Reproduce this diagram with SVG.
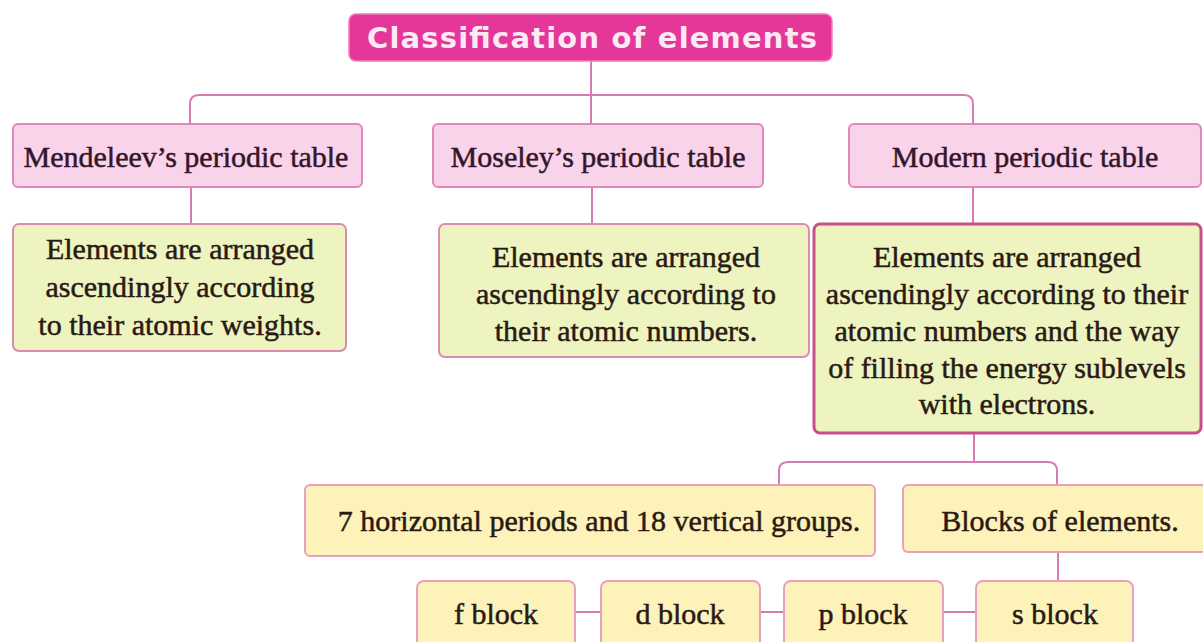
<svg xmlns="http://www.w3.org/2000/svg" width="1203" height="642" viewBox="0 0 1203 642">
<style>
.bg{fill:#ffffff}
.con{fill:none;stroke:#d87bb0;stroke-width:2}
.title{fill:#e5369a;stroke:#f07cc0;stroke-width:1.5}
.ttext{font-family:"DejaVu Sans",sans-serif;font-weight:bold;font-size:29px;fill:#fbe9f3;text-anchor:middle}
.pink{fill:#f9d3e9;stroke:#e087bb;stroke-width:2}
.green{fill:#eef4c0;stroke:#dc8ab2;stroke-width:2}
.green2{fill:#eef4c0;stroke:#c8508a;stroke-width:3}
.yellow{fill:#fdf2b9;stroke:#e8a0c2;stroke-width:2}
.t{font-family:"Liberation Serif","Times New Roman",serif;font-size:30px;fill:#2a1a14;stroke:#2a1a14;stroke-width:0.5;text-anchor:middle}
.h{fill:#34162a;stroke:#34162a}
</style>
<rect class="bg" x="0" y="0" width="1203" height="642"/>
<g id="connectors">
<path class="con" d="M591,61 V124"/>
<path class="con" d="M190,124 V104 Q190,95 199,95 H964 Q973,95 973,104 V124"/>
<path class="con" d="M191,187 V224"/>
<path class="con" d="M592,187 V224"/>
<path class="con" d="M973,187 V224"/>
<path class="con" d="M974,433 V462"/>
<path class="con" d="M779,485 V471 Q779,462 788,462 H1048 Q1057,462 1057,471 V485"/>
<path class="con" d="M1058,552 V581"/>
<path class="con" d="M575,612 H601"/>
<path class="con" d="M760,612 H784"/>
<path class="con" d="M943,612 H976"/>
</g>
<g id="title">
<rect class="title" x="349" y="14" width="483" height="47" rx="7"/>
<text class="ttext" x="592" y="48" textLength="450" lengthAdjust="spacing">Classification of elements</text>
</g>
<g id="mendeleev">
<rect class="pink" x="13" y="124" width="349" height="63" rx="5"/>
<text class="t h" x="186" y="167">Mendeleev’s periodic table</text>
</g>
<g id="moseley">
<rect class="pink" x="433" y="124" width="330" height="63" rx="5"/>
<text class="t h" x="598" y="167">Moseley’s periodic table</text>
</g>
<g id="modern">
<rect class="pink" x="849" y="124" width="352" height="63" rx="5"/>
<text class="t h" x="1025" y="167">Modern periodic table</text>
</g>
<g id="mendeleev-desc">
<rect class="green" x="13" y="224" width="333" height="127" rx="6"/>
<text class="t" x="180" y="259">Elements are arranged</text>
<text class="t" x="180" y="297">ascendingly according</text>
<text class="t" x="180" y="335">to their atomic weights.</text>
</g>
<g id="moseley-desc">
<rect class="green" x="439" y="224" width="370" height="133" rx="6"/>
<text class="t" x="626" y="267">Elements are arranged</text>
<text class="t" x="626" y="304">ascendingly according to</text>
<text class="t" x="626" y="341">their atomic numbers.</text>
</g>
<g id="modern-desc">
<rect class="green2" x="814" y="224" width="387" height="209" rx="6"/>
<text class="t" x="1007" y="267">Elements are arranged</text>
<text class="t" x="1007" y="304">ascendingly according to their</text>
<text class="t" x="1007" y="341">atomic numbers and the way</text>
<text class="t" x="1007" y="378">of filling the energy sublevels</text>
<text class="t" x="1007" y="414">with electrons.</text>
</g>
<g id="periods">
<rect class="yellow" x="305" y="485" width="570" height="71" rx="5"/>
<text class="t" x="599" y="531">7  horizontal periods and 18 vertical groups.</text>
</g>
<g id="blocks">
<rect class="yellow" x="903" y="485" width="310" height="67" rx="5"/>
<text class="t" x="1060" y="531">Blocks of elements.</text>
</g>
<g id="f-block">
<rect class="yellow" x="417" y="581" width="158" height="80" rx="7"/>
<text class="t" x="496" y="624">f block</text>
</g>
<g id="d-block">
<rect class="yellow" x="601" y="581" width="159" height="80" rx="7"/>
<text class="t" x="680" y="624">d block</text>
</g>
<g id="p-block">
<rect class="yellow" x="784" y="581" width="159" height="80" rx="7"/>
<text class="t" x="863" y="624">p block</text>
</g>
<g id="s-block">
<rect class="yellow" x="976" y="581" width="157" height="80" rx="7"/>
<text class="t" x="1055" y="624">s block</text>
</g>
</svg>
